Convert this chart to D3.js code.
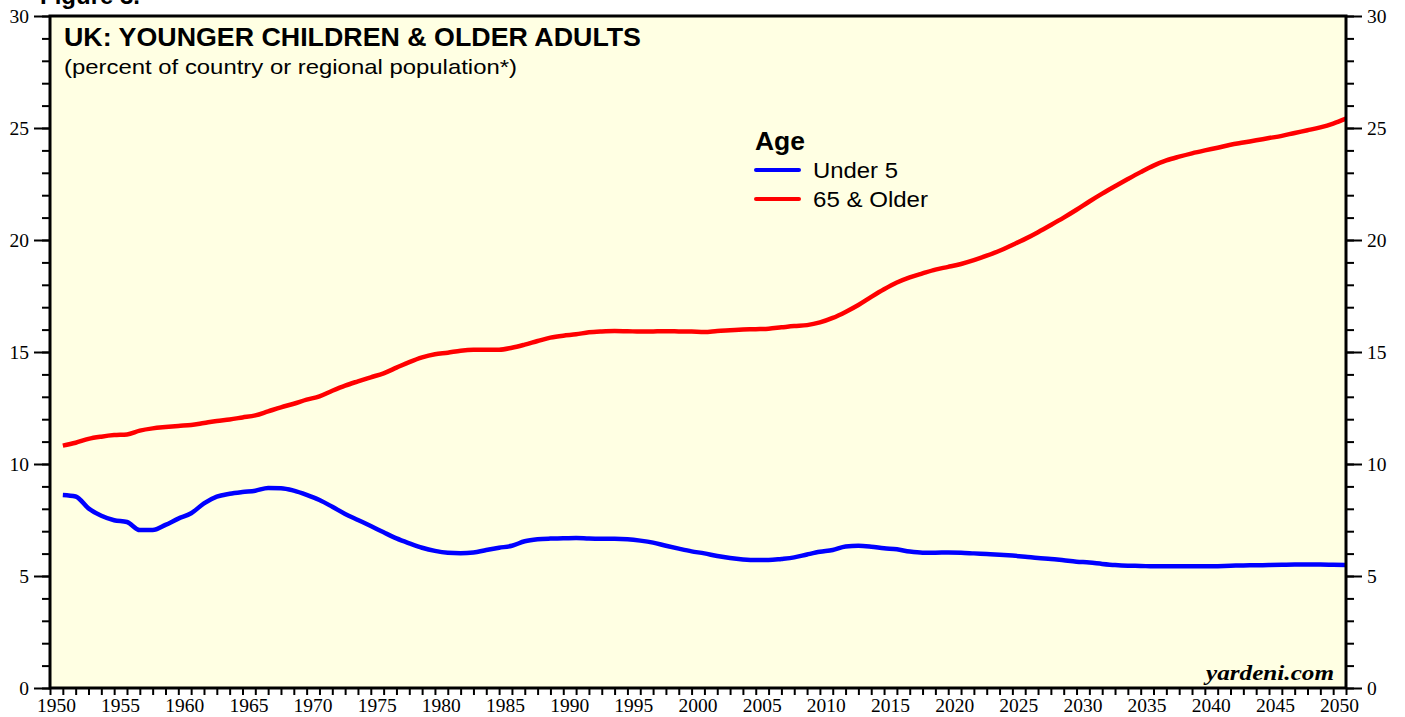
<!DOCTYPE html>
<html>
<head>
<meta charset="utf-8">
<script src="https://cdn.jsdelivr.net/npm/d3@7"></script>
<style>
  body { margin: 0; background: #fff; }
  svg { display: block; }
  .ticklabel { font-family: "Liberation Serif", "Times New Roman", serif; font-size: 19.5px; fill: #000; }
</style>
</head>
<body>
<svg id="chart" width="1405" height="717"></svg>
<script>
// ---------------------------------------------------------------------------
// data (percent of population, UK), one value per year 1950..2050
// ---------------------------------------------------------------------------
var years = d3.range(1950, 2051)

var under5 = [
  8.62, 8.55, 8.02, 7.69, 7.49, 7.41, 7.05, 7.05, 7.28, 7.56,   // 1950s
  7.80, 8.24, 8.54, 8.67, 8.75, 8.81, 8.93, 8.92, 8.81, 8.62,   // 1960s
  8.39, 8.09, 7.77, 7.50, 7.23, 6.95, 6.68, 6.46, 6.26, 6.12,   // 1970s
  6.04, 6.02, 6.05, 6.16, 6.26, 6.35, 6.55, 6.64, 6.67, 6.68,   // 1980s
  6.70, 6.67, 6.66, 6.66, 6.64, 6.58, 6.49, 6.35, 6.22, 6.10,   // 1990s
  6.01, 5.89, 5.80, 5.74, 5.71, 5.71, 5.76, 5.83, 5.96, 6.08,   // 2000s
  6.16, 6.32, 6.35, 6.31, 6.24, 6.19, 6.09, 6.04, 6.04, 6.05,   // 2010s
  6.04, 6.01, 5.98, 5.95, 5.91, 5.86, 5.80, 5.76, 5.70, 5.64,   // 2020s
  5.60, 5.54, 5.49, 5.46, 5.45, 5.43, 5.43, 5.43, 5.43, 5.43,   // 2030s
  5.44, 5.46, 5.47, 5.48, 5.49, 5.50, 5.51, 5.51, 5.51, 5.50,   // 2040s
  5.49
]

var older65 = [
  10.82, 10.95, 11.12, 11.22, 11.29, 11.32, 11.49, 11.59, 11.65, 11.70,
  11.74, 11.83, 11.92, 11.99, 12.08, 12.17, 12.35, 12.53, 12.69, 12.87,
  13.02, 13.27, 13.50, 13.69, 13.87, 14.05, 14.30, 14.55, 14.76, 14.90,
  14.97, 15.06, 15.10, 15.10, 15.10, 15.19, 15.33, 15.49, 15.64, 15.73,
  15.79, 15.88, 15.92, 15.94, 15.93, 15.91, 15.92, 15.93, 15.92, 15.91,
  15.89, 15.94, 15.97, 16.00, 16.02, 16.04, 16.10, 16.16, 16.20, 16.32,
  16.52, 16.79, 17.10, 17.46, 17.80, 18.10, 18.33, 18.51, 18.68, 18.80,
  18.93, 19.10, 19.30, 19.52, 19.78, 20.05, 20.35, 20.67, 21.00, 21.35,
  21.72, 22.07, 22.40, 22.72, 23.03, 23.32, 23.55, 23.72, 23.87, 24.00,
  24.12, 24.25, 24.35, 24.45, 24.55, 24.65, 24.78, 24.90, 25.03, 25.20,
  25.42
]

var seriesNames = ["Under 5", "65 & Older"]
var seriesColors = ["#0000ff", "#ff0000"]
var yTicks = [0, 5, 10, 15, 20, 25, 30]
var xLabelYears = d3.range(1950, 2051, 5)

// ---------------------------------------------------------------------------
// setup
// ---------------------------------------------------------------------------
var svg = d3.select("#chart")
var margin = { top: 16, right: 59, bottom: 29, left: 50 },
    width = 1405 - margin.left - margin.right,
    height = 717 - margin.top - margin.bottom

// each year is a band; data point sits at the end of its year
var x = d3.scaleLinear().domain([1950, 2051]).range([margin.left, margin.left + width])
var y = d3.scaleLinear().domain([0, 30]).range([margin.top + height, margin.top])

var sans = "Liberation Sans, Arial, Helvetica, sans-serif"

// plot background
svg.append("rect")
    .attr("x", x(1950))
    .attr("y", y(30))
    .attr("width", x(2051) - x(1950))
    .attr("height", y(0) - y(30))
    .style("fill", "#ffffe3")

// header above the chart (cropped by the picture edge in the original)
svg.append("text")
    .attr("x", 40)
    .attr("y", 4)
    .style("font-family", sans)
    .style("font-weight", "bold")
    .style("font-size", "24px")
    .text("Figure 3.")

// ---------------------------------------------------------------------------
// axes
// ---------------------------------------------------------------------------
var minorY = d3.range(0, 31)

var yLeftMinor = d3.axisLeft(y).tickValues(minorY).tickSize(8).tickFormat("")
var yLeftMajor = d3.axisLeft(y).tickValues(yTicks).tickSize(16).tickPadding(5)
var yRightMinor = d3.axisRight(y).tickValues(minorY).tickSize(8).tickFormat("")
var yRightMajor = d3.axisRight(y).tickValues(yTicks).tickSize(16).tickPadding(5)

function styleAxis(g) {
    g.select(".domain").remove()
    g.selectAll("line").attr("stroke", "#000").attr("stroke-width", 2)
    g.selectAll("text").attr("class", "ticklabel").attr("font-family", null).attr("font-size", null)
}

svg.append("g").attr("transform", "translate(" + x(1950) + ",0)").call(yLeftMinor).call(styleAxis)
svg.append("g").attr("transform", "translate(" + x(1950) + ",0)").call(yLeftMajor).call(styleAxis)
svg.append("g").attr("transform", "translate(" + x(2051) + ",0)").call(yRightMinor).call(styleAxis)
svg.append("g").attr("transform", "translate(" + x(2051) + ",0)").call(yRightMajor).call(styleAxis)

// yearly ticks on the bottom
svg.append("g")
    .attr("transform", "translate(0," + y(0) + ")")
    .call(d3.axisBottom(x).tickValues(d3.range(1950, 2052)).tickSize(7).tickFormat(""))
    .call(styleAxis)

// year labels centred in their band
svg.append("g").selectAll("text")
    .data(xLabelYears)
    .enter()
    .append("text")
    .attr("class", "ticklabel")
    .attr("x", function (d) { return x(d + 0.5) })
    .attr("y", y(0) + 24)
    .attr("text-anchor", "middle")
    .text(function (d) { return d })

// ---------------------------------------------------------------------------
// lines
// ---------------------------------------------------------------------------
var line = d3.line()
    .x(function (d) { return x(d.year + 1) })
    .y(function (d) { return y(d.value) })
    .curve(d3.curveMonotoneX)

var seriesData = [under5, older65].map(function (vals) {
    return years.map(function (yr, i) { return { year: yr, value: vals[i] } })
})

svg.selectAll(".series")
    .data(seriesData)
    .enter()
    .append("path")
    .attr("class", "series")
    .attr("d", line)
    .attr("fill", "none")
    .attr("stroke", function (d, i) { return seriesColors[i] })
    .attr("stroke-width", 4.5)
    .attr("stroke-linejoin", "round")

// frame
svg.append("rect")
    .attr("x", x(1950))
    .attr("y", y(30))
    .attr("width", x(2051) - x(1950))
    .attr("height", y(0) - y(30))
    .attr("fill", "none")
    .attr("stroke", "#000")
    .attr("stroke-width", 3)

// ---------------------------------------------------------------------------
// titles & legend
// ---------------------------------------------------------------------------
svg.append("text")
    .attr("x", 64)
    .attr("y", 46)
    .attr("textLength", 577)
    .attr("lengthAdjust", "spacingAndGlyphs")
    .style("font-family", sans)
    .style("font-weight", "bold")
    .style("font-size", "25px")
    .text("UK: YOUNGER CHILDREN & OLDER ADULTS")

svg.append("text")
    .attr("x", 64)
    .attr("y", 74)
    .attr("textLength", 453)
    .attr("lengthAdjust", "spacingAndGlyphs")
    .style("font-family", sans)
    .style("font-size", "21px")
    .text("(percent of country or regional population*)")

svg.append("text")
    .attr("x", 755)
    .attr("y", 150)
    .attr("textLength", 50)
    .attr("lengthAdjust", "spacingAndGlyphs")
    .style("font-family", sans)
    .style("font-weight", "bold")
    .style("font-size", "25px")
    .text("Age")

var legendWidths = [85, 115]

var legend = svg.append("g").selectAll("g")
    .data(seriesNames)
    .enter()
    .append("g")
    .attr("transform", function (d, i) { return "translate(0," + (170 + i * 29) + ")" })

legend.append("line")
    .attr("x1", 756)
    .attr("x2", 799)
    .attr("y1", 0)
    .attr("y2", 0)
    .attr("stroke", function (d, i) { return seriesColors[i] })
    .attr("stroke-width", 4)
    .attr("stroke-linecap", "round")

legend.append("text")
    .attr("x", 813)
    .attr("y", 8)
    .attr("textLength", function (d, i) { return legendWidths[i] })
    .attr("lengthAdjust", "spacingAndGlyphs")
    .style("font-family", sans)
    .style("font-size", "22px")
    .text(function (d) { return d })

svg.append("text")
    .attr("x", 1334)
    .attr("y", 680)
    .attr("text-anchor", "end")
    .attr("textLength", 128)
    .attr("lengthAdjust", "spacingAndGlyphs")
    .style("font-family", "Liberation Serif, Times New Roman, serif")
    .style("font-weight", "bold")
    .style("font-style", "italic")
    .style("font-size", "22px")
    .text("yardeni.com")
</script>
</body>
</html>
